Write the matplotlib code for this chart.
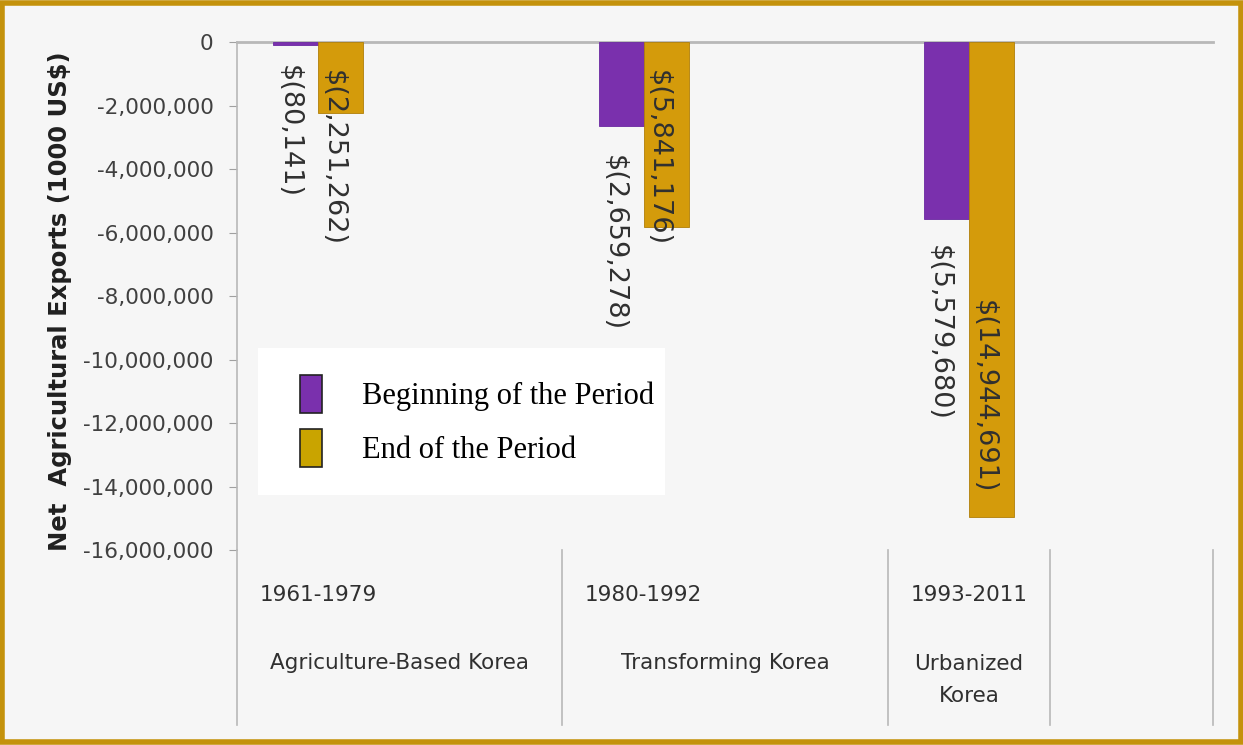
import matplotlib
matplotlib.use("Agg")
import matplotlib.pyplot as plt
from matplotlib.patches import Patch, Rectangle
from matplotlib.ticker import FuncFormatter

# ---- data ----
periods = ["1961-1979", "1980-1992", "1993-2011"]
stages = ["Agriculture-Based Korea", "Transforming Korea", "Urbanized\nKorea"]
beginning = [-80141, -2659278, -5579680]
end = [-2251262, -5841176, -14944691]
series_names = ["Beginning of the Period", "End of the Period"]
yticks = [0, -2000000, -4000000, -6000000, -8000000, -10000000,
          -12000000, -14000000, -16000000]

# ---- layout (label positions, not data) ----
slot_centers = [0.5, 2.5, 4.5]
stage_centers = [1.0, 3.0, 4.5]
separators = [2, 4, 5, 6]
label_top_begin = [-0.72e6, -3.56e6, -6.39e6]
label_top_end = [-0.88e6, -0.88e6, -8.13e6]

PURPLE = "#7a30ad"
GOLD = "#d49b0b"
BG = "#f6f6f6"

fig = plt.figure(figsize=(12.43, 7.45), dpi=100, facecolor=BG)
ax = fig.add_axes([0.1907, 0.2617, 0.7852, 0.6819])
ax.set_facecolor(BG)

w = 0.277
xb = [c - w / 2 for c in slot_centers]
xe = [c + w / 2 for c in slot_centers]
ax.bar(xb, beginning, width=w, color=PURPLE, edgecolor="#6a28a0", linewidth=0.6, zorder=3)
ax.bar(xe, end, width=w, color=GOLD, edgecolor="#b07f08", linewidth=0.6, zorder=3)

ax.set_xlim(0, 6)
ax.set_ylim(-16000000, 0)
ax.set_yticks(yticks)
ax.yaxis.set_major_formatter(FuncFormatter(lambda v, p: f"{int(v):,}"))
ax.set_xticks([])
ax.tick_params(axis="y", length=6, color="#a0a0a0", labelsize=15.5, labelcolor="#404040", pad=11)

for s in ["right", "bottom"]:
    ax.spines[s].set_visible(False)
ax.spines["top"].set_color("#b8b8b8")
ax.spines["top"].set_linewidth(2)
ax.spines["left"].set_color("#b8b8b8")
ax.spines["left"].set_linewidth(1.2)

# data labels
lab_font = dict(fontsize=19.5, color="#303030", family="DejaVu Sans")
for x, v, t in zip(xb, beginning, label_top_begin):
    ax.text(x - 0.045, t, f"$({abs(v):,})", rotation=270, ha="center", va="top", zorder=5, **lab_font)
for x, v, t in zip(xe, end, label_top_end):
    ax.text(x - 0.05, t, f"$({abs(v):,})", rotation=270, ha="center", va="top", zorder=5, **lab_font)

# category table below the plot
tr = ax.get_xaxis_transform()
table_bottom = -(725 - 550) / 508
ax.plot([0, 0], [0, table_bottom], transform=tr, color="#b8b8b8", lw=1.2, clip_on=False)
for sx in separators:
    ax.plot([sx, sx], [0, table_bottom], transform=tr, color="#b8b8b8", lw=1.2, clip_on=False)

cat_font = dict(fontsize=15.5, color="#303030", family="DejaVu Sans")
for c, p in zip(slot_centers, periods):
    ax.text(c, -(595 - 550) / 508, p, transform=tr, ha="center", va="center", **cat_font)
for c, s in zip(stage_centers, stages):
    if "\n" in s:
        ax.text(c, -(680 - 550) / 508, s, transform=tr, ha="center", va="center", linespacing=1.8, **cat_font)
    else:
        ax.text(c, -(663 - 550) / 508, s, transform=tr, ha="center", va="center", **cat_font)

ax.set_ylabel("Net  Agricultural Exports (1000 US$)", fontsize=17.5, fontweight="bold",
              color="#202020")
ax.yaxis.set_label_coords(-0.169, 0.49)

# legend box (white panel) + legend entries
W, H = 1243.0, 745.0
fig.patches.append(Rectangle((258 / W, 1 - 495 / H), (665 - 258) / W, (495 - 348) / H,
                             transform=fig.transFigure, facecolor="white", edgecolor="none",
                             zorder=4))
handles = [Patch(facecolor=PURPLE, edgecolor="#222222", linewidth=1.2),
           Patch(facecolor="#c9a400", edgecolor="#222222", linewidth=1.2)]
leg = fig.legend(handles, series_names, loc="upper left", bbox_to_anchor=(300 / W, 1 - 375 / H),
                 frameon=False, prop={"family": "Liberation Serif", "size": 22},
                 handlelength=0.72, handleheight=1.55, handletextpad=1.3, labelspacing=0.5,
                 borderpad=0, borderaxespad=0)
leg.set_zorder(5)

# figure border
fig.patches.append(Rectangle((0.002, 0.004), 0.996, 0.992, transform=fig.transFigure,
                             fill=False, edgecolor="#c4920c", linewidth=4))

fig.savefig("out.png", dpi=100, facecolor=BG)
